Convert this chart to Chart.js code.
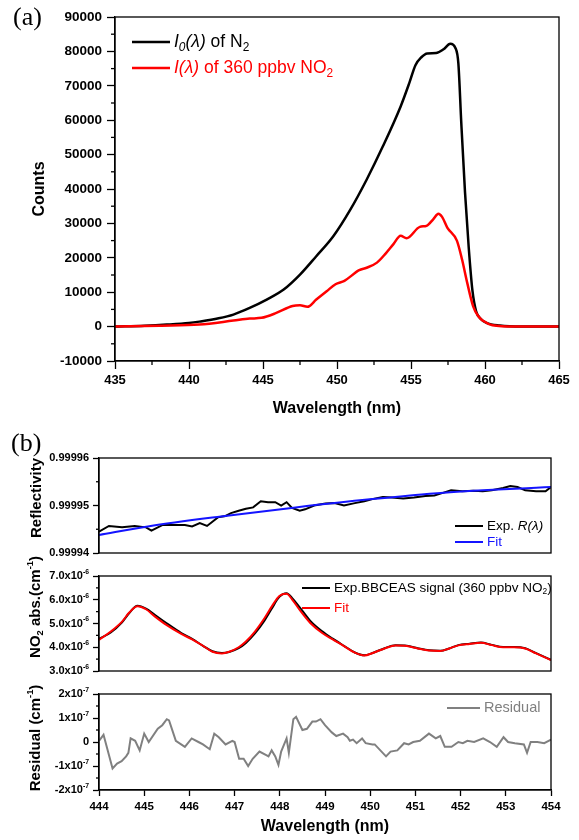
<!DOCTYPE html>
<html>
<head>
<meta charset="utf-8">
<script src="https://cdn.jsdelivr.net/npm/chart.js@4.4.1/dist/chart.umd.min.js"></script>
<style>
  body { margin: 0; background: #fff; width: 579px; height: 840px; position: relative; overflow: hidden; }
  .box { position: absolute; left: 0; width: 579px; }
  .tag { position: absolute; font-family: "Liberation Serif", "Times New Roman", serif; font-size: 26px; line-height: 26px; color: #000; }
</style>
</head>
<body>
<div class="box" style="top:0;height:425px"><canvas id="chartA"></canvas></div>
<div class="box" style="top:436px;height:130px"><canvas id="chartR"></canvas></div>
<div class="box" style="top:550px;height:132px"><canvas id="chartAbs"></canvas></div>
<div class="box" style="top:670px;height:170px"><canvas id="chartRes"></canvas></div>
<div class="tag" style="left:13px;top:4px">(a)</div>
<div class="tag" style="left:11px;top:430px">(b)</div>
<script>
// ---- (a) spectra, counts vs wavelength (nm)
const wlI0 = [435.0, 437.0, 438.5, 440.0, 440.7, 442.0, 443.0, 444.1, 445.25, 446.4, 447.5, 448.6, 449.75, 450.9, 452.0, 453.1, 454.3, 454.9, 455.3, 455.7, 456.1, 456.7, 457.2, 457.65, 458.0, 458.2, 458.4, 458.65, 458.9, 459.15, 459.4, 459.7, 460.1, 461.0, 462.5, 465.0];
const countsI0 = [0, 250, 580, 1050, 1450, 2400, 3490, 5430, 7850, 10760, 15100, 20450, 26260, 34000, 42700, 52400, 64000, 71000, 76000, 78300, 79400, 79500, 80600, 82200, 81000, 76500, 59000, 39000, 23000, 10500, 4460, 2300, 1100, 300, 0, 0];
const wlI = [435.0, 438.0, 440.7, 443.0, 444.1, 444.9, 445.9, 447.0, 447.5, 448.0, 448.6, 449.3, 449.9, 450.5, 451.5, 452.0, 452.7, 453.3, 453.8, 454.3, 454.7, 455.6, 456.05, 456.5, 456.85, 457.1, 457.45, 458.1, 458.45, 458.8, 459.2, 459.55, 459.9, 460.5, 462.0, 465.0];
const countsI = [0, 250, 580, 1740, 2330, 2550, 3970, 6000, 6200, 5750, 7850, 10270, 12300, 13300, 16400, 17100, 18600, 21300, 23900, 26400, 25700, 29000, 29300, 31200, 32800, 31900, 28800, 25000, 19500, 12700, 5900, 3000, 1600, 390, 0, 0];

// ---- (b) top: mirror reflectivity
const wlR = [444.00, 444.22, 444.51, 444.79, 445.04, 445.16, 445.41, 445.65, 445.90, 446.06, 446.23, 446.39, 446.63, 446.80, 446.92, 447.09, 447.25, 447.41, 447.58, 447.74, 447.90, 448.03, 448.15, 448.27, 448.44, 448.56, 448.76, 449.01, 449.21, 449.42, 449.66, 449.87, 450.07, 450.28, 450.48, 450.73, 450.97, 451.22, 451.42, 451.59, 451.79, 452.04, 452.28, 452.49, 452.69, 452.94, 453.10, 453.26, 453.43, 453.67, 453.88, 454.00];
const reflExp = [0.9999445, 0.9999457, 0.9999454, 0.9999457, 0.9999454, 0.9999447, 0.9999459, 0.9999459, 0.9999459, 0.9999456, 0.9999463, 0.9999457, 0.9999475, 0.9999478, 0.9999484, 0.9999489, 0.9999493, 0.9999496, 0.9999509, 0.9999507, 0.9999507, 0.9999500, 0.9999507, 0.9999495, 0.9999489, 0.9999492, 0.9999500, 0.9999504, 0.9999505, 0.9999500, 0.9999505, 0.9999509, 0.9999514, 0.9999518, 0.9999517, 0.9999515, 0.9999517, 0.9999520, 0.9999521, 0.9999526, 0.9999532, 0.9999530, 0.9999531, 0.9999530, 0.9999532, 0.9999537, 0.9999541, 0.9999539, 0.9999532, 0.9999530, 0.9999530, 0.9999539];
const wlRFit = [444.0, 445.08, 446.7, 448.35, 449.99, 451.63, 454.0];
const reflFit = [0.9999438, 0.9999456, 0.9999477, 0.9999496, 0.9999513, 0.9999527, 0.9999539];
const reflTicks = [0.99994, 0.99995, 0.99996];

// ---- (b) middle: NO2 absorption, in units of 1e-6 cm^-1
const wlAbs = [444.00, 444.26, 444.51, 444.67, 444.85, 445.04, 445.24, 445.49, 445.82, 446.06, 446.31, 446.51, 446.72, 446.88, 447.09, 447.25, 447.45, 447.66, 447.82, 447.99, 448.15, 448.27, 448.44, 448.68, 448.93, 449.17, 449.42, 449.66, 449.87, 450.07, 450.32, 450.56, 450.81, 451.05, 451.30, 451.55, 451.75, 451.95, 452.20, 452.45, 452.69, 452.94, 453.18, 453.43, 453.67, 454.00];
const absExp = [4.35, 4.62, 5.05, 5.44, 5.75, 5.63, 5.36, 5.02, 4.60, 4.35, 4.05, 3.83, 3.76, 3.80, 3.96, 4.18, 4.58, 5.12, 5.62, 6.12, 6.27, 6.08, 5.68, 5.10, 4.68, 4.36, 4.06, 3.78, 3.66, 3.77, 3.96, 4.08, 4.06, 3.96, 3.87, 3.85, 3.95, 4.09, 4.15, 4.20, 4.10, 4.01, 4.01, 3.96, 3.75, 3.47];
const absFit = [4.31, 4.66, 5.08, 5.46, 5.73, 5.60, 5.29, 4.94, 4.56, 4.33, 4.05, 3.81, 3.74, 3.81, 4.00, 4.24, 4.66, 5.22, 5.71, 6.16, 6.25, 6.02, 5.57, 5.01, 4.61, 4.33, 4.05, 3.77, 3.65, 3.77, 3.95, 4.07, 4.05, 3.95, 3.86, 3.84, 3.95, 4.08, 4.14, 4.19, 4.09, 4.00, 4.00, 3.95, 3.74, 3.46];
const absTicks = [3, 4, 5, 6, 7];
const absTickText = ['3.0x10^{-6}', '4.0x10^{-6}', '5.0x10^{-6}', '6.0x10^{-6}', '7.0x10^{-6}'];

// ---- (b) bottom: residual, in units of 1e-7 cm^-1
const wlRes = [444.0, 444.1, 444.3, 444.4, 444.5, 444.6, 444.65, 444.7, 444.8, 444.9, 445.0, 445.1, 445.3, 445.4, 445.5, 445.55, 445.7, 445.9, 446.05, 446.2, 446.3, 446.45, 446.55, 446.65, 446.8, 446.95, 447.0, 447.1, 447.2, 447.3, 447.4, 447.55, 447.7, 447.75, 447.82, 447.9, 447.97, 448.03, 448.15, 448.2, 448.3, 448.36, 448.5, 448.6, 448.72, 448.8, 448.9, 449.0, 449.15, 449.25, 449.4, 449.5, 449.55, 449.62, 449.7, 449.82, 449.9, 450.05, 450.1, 450.35, 450.45, 450.6, 450.75, 450.85, 450.95, 451.1, 451.3, 451.45, 451.55, 451.65, 451.8, 451.95, 452.05, 452.15, 452.3, 452.5, 452.65, 452.8, 452.95, 453.05, 453.2, 453.4, 453.47, 453.55, 453.7, 453.85, 454.0];
const residual = [0.05, 0.3, -1.1, -0.9, -0.8, -0.6, -0.45, 0.15, 0.05, -0.35, 0.35, 0.0, 0.55, 0.7, 0.95, 0.9, 0.05, -0.2, 0.15, 0.0, -0.1, -0.3, 0.35, 0.2, -0.1, 0.05, 0.0, -0.7, -0.7, -1.0, -0.7, -0.4, -0.55, -0.6, -0.35, -0.6, -0.95, -0.4, 0.15, -0.45, 0.95, 1.05, 0.5, 0.55, 0.85, 0.85, 0.95, 0.7, 0.4, 0.25, 0.35, 0.2, 0.05, 0.1, -0.05, 0.15, -0.05, -0.1, -0.1, -0.6, -0.4, -0.35, -0.05, -0.1, 0.0, 0.05, 0.35, 0.15, 0.25, -0.2, -0.2, 0.0, -0.05, 0.05, 0.0, 0.15, 0.0, -0.2, 0.2, 0.0, -0.05, -0.1, -0.45, 0.0, 0.0, -0.05, 0.1];
const resTicks = [-2, -1, 0, 1, 2];
const resTickText = ['-2x10^{-7}', '-1x10^{-7}', '0', '1x10^{-7}', '2x10^{-7}'];
const wlTicksB = [444, 445, 446, 447, 448, 449, 450, 451, 452, 453, 454];

const FONT = '"Liberation Sans", Arial, Helvetica, sans-serif';
Chart.defaults.font.family = FONT;
Chart.defaults.color = '#000';

// tiny markup: *italic*, _{sub}, ^{sup}
function parseRich(str) {
    const parts = [];
    let it = false, buf = '', i = 0;
    const push = (t, mode) => { if (t) parts.push({ t, it, mode }); };
    while (i < str.length) {
        const c = str[i];
        if (c === '*') { push(buf, 0); buf = ''; it = !it; i++; }
        else if ((c === '_' || c === '^') && str[i + 1] === '{') {
            push(buf, 0); buf = '';
            const end = str.indexOf('}', i);
            push(str.slice(i + 2, end), c === '_' ? -1 : 1);
            i = end + 1;
        } else { buf += c; i++; }
    }
    push(buf, 0);
    return parts;
}

function drawRich(ctx, str, x, y, o) {
    const parts = parseRich(str);
    const small = o.small || 0.62;
    const fontOf = p => `${p.it ? 'italic ' : ''}${o.bold ? 'bold ' : ''}${p.mode ? o.size * small : o.size}px ${FONT}`;
    let w = 0;
    parts.forEach(p => { ctx.font = fontOf(p); w += ctx.measureText(p.t).width; });
    let cx = o.align === 'right' ? x - w : o.align === 'center' ? x - w / 2 : x;
    ctx.textAlign = 'left';
    ctx.textBaseline = 'middle';
    ctx.fillStyle = o.color || '#000';
    parts.forEach(p => {
        ctx.font = fontOf(p);
        const dy = p.mode === 1 ? -o.size * 0.36 : p.mode === -1 ? o.size * 0.3 : 0;
        ctx.fillText(p.t, cx, y + dy);
        cx += ctx.measureText(p.t).width;
    });
}

// frame, minor ticks, rich tick labels, rotated titles, legend
const decor = {
    id: 'decor',
    afterDraw(chart, args, o) {
        const ctx = chart.ctx, a = chart.chartArea;
        ctx.save();
        ctx.strokeStyle = '#000';
        ctx.lineWidth = 1.3;
        ctx.strokeRect(a.left, a.top, a.right - a.left, a.bottom - a.top);

        (o.minor || []).forEach(id => {
            const s = chart.scales[id];
            for (let i = 0; i < s.ticks.length - 1; i++) {
                const p = s.getPixelForValue((s.ticks[i].value + s.ticks[i + 1].value) / 2);
                ctx.beginPath();
                if (s.isHorizontal()) { ctx.moveTo(p, a.bottom); ctx.lineTo(p, a.bottom + o.minorLen); }
                else { ctx.moveTo(a.left, p); ctx.lineTo(a.left - o.minorLen, p); }
                ctx.stroke();
            }
        });

        if (o.tickText) {
            const s = chart.scales.y;
            s.ticks.forEach((t, i) => {
                drawRich(ctx, o.tickText[i], a.left - 10, s.getPixelForValue(t.value), { size: 11, bold: true, align: 'right' });
            });
        }

        if (o.yTitle) {
            ctx.save();
            ctx.translate(o.yTitle.x, o.yTitle.y);
            ctx.rotate(-Math.PI / 2);
            drawRich(ctx, o.yTitle.text, 0, 0, { size: 15, bold: true, align: 'center' });
            ctx.restore();
        }

        (o.legend || []).forEach(item => {
            const ds = chart.data.datasets[item.ds];
            ctx.strokeStyle = ds.borderColor;
            ctx.lineWidth = ds.borderWidth;
            ctx.beginPath();
            ctx.moveTo(item.x, item.y);
            ctx.lineTo(item.x + item.len, item.y);
            ctx.stroke();
            drawRich(ctx, item.text, item.x + item.len + 4, item.y, { size: item.size, small: item.small, color: item.color || ds.borderColor });
        });
        ctx.restore();
    }
};

function pts(xs, ys) {
    return xs.map((x, i) => ({ x, y: ys[i] }));
}

function line(label, xs, ys, color, width, order, smooth) {
    return {
        label, data: pts(xs, ys), borderColor: color, borderWidth: width,
        pointRadius: 0, fill: false, order,
        cubicInterpolationMode: smooth ? 'monotone' : 'default', tension: 0
    };
}

const tickGrid = len => ({ drawOnChartArea: false, drawTicks: true, tickLength: len, color: '#000', tickWidth: 1.3 });
const blackBorder = { display: true, color: '#000', width: 1.3 };

// (a)
new Chart(document.getElementById('chartA'), {
    type: 'line',
    data: {
        datasets: [
            line('I0 of N2', wlI0, countsI0, '#000000', 2.5, 1, true),
            line('I of 360 ppbv NO2', wlI, countsI, '#ff0000', 2.5, 0, true)
        ]
    },
    options: {
        responsive: true, maintainAspectRatio: false, animation: false, devicePixelRatio: 1,
        layout: { padding: { top: 17, right: 20, left: 0, bottom: 0 } },
        plugins: {
            legend: { display: false }, tooltip: { enabled: false },
            decor: {
                minor: ['x', 'y'], minorLen: 4,
                legend: [
                    { ds: 0, x: 132, y: 42, len: 38, size: 17.5, small: 0.68, text: '*I_{0}(λ)* of N_{2}' },
                    { ds: 1, x: 132, y: 68, len: 38, size: 17.5, small: 0.68, text: '*I(λ)* of 360 ppbv NO_{2}' }
                ]
            }
        },
        scales: {
            x: {
                type: 'linear', min: 435, max: 465,
                ticks: { stepSize: 5, padding: 4, font: { size: 13, weight: 'bold' }, callback: v => String(v) },
                grid: tickGrid(8), border: blackBorder,
                title: { display: true, text: 'Wavelength (nm)', font: { size: 16, weight: 'bold' }, padding: { top: 0, bottom: 7 } },
                afterFit: s => { s.height = 64; }
            },
            y: {
                min: -10000, max: 90000,
                ticks: { stepSize: 10000, padding: 5, font: { size: 13.5, weight: 'bold' }, callback: v => String(v) },
                grid: tickGrid(8), border: blackBorder,
                title: { display: true, text: 'Counts', font: { size: 16, weight: 'bold' }, padding: { top: 30, bottom: 0 } },
                afterFit: s => { s.width = 115; }
            }
        }
    },
    plugins: [decor]
});

// (b) shared x for the three stacked panels
const xHidden = { type: 'linear', min: 444, max: 454, display: false };

new Chart(document.getElementById('chartR'), {
    type: 'line',
    data: {
        datasets: [
            line('Exp. R', wlR, reflExp, '#000000', 2, 1, false),
            line('Fit', wlRFit, reflFit, '#1414ff', 2, 0, true)
        ]
    },
    options: {
        responsive: true, maintainAspectRatio: false, animation: false, devicePixelRatio: 1,
        layout: { padding: { top: 22, right: 28, left: 0, bottom: 13 } },
        plugins: {
            legend: { display: false }, tooltip: { enabled: false },
            decor: {
                minor: ['y'], minorLen: 3,
                yTitle: { x: 37, y: 62, text: 'Reflectivity' },
                legend: [
                    { ds: 0, x: 455, y: 90, len: 28, size: 13.5, text: 'Exp. *R(λ)*' },
                    { ds: 1, x: 455, y: 106, len: 28, size: 13.5, text: 'Fit' }
                ]
            }
        },
        scales: {
            x: xHidden,
            y: {
                min: 0.99994, max: 0.99996,
                afterBuildTicks: s => { s.ticks = reflTicks.map(v => ({ value: v })); },
                ticks: { padding: 4, font: { size: 11, weight: 'bold' }, callback: v => v.toFixed(5) },
                grid: tickGrid(6), border: blackBorder,
                afterFit: s => { s.width = 99; }
            }
        }
    },
    plugins: [decor]
});

new Chart(document.getElementById('chartAbs'), {
    type: 'line',
    data: {
        datasets: [
            line('Exp.BBCEAS signal', wlAbs, absExp, '#000000', 2, 1, true),
            line('Fit', wlAbs, absFit, '#ff0000', 2, 0, true)
        ]
    },
    options: {
        responsive: true, maintainAspectRatio: false, animation: false, devicePixelRatio: 1,
        layout: { padding: { top: 26, right: 28, left: 0, bottom: 11 } },
        plugins: {
            legend: { display: false }, tooltip: { enabled: false },
            decor: {
                minor: ['y'], minorLen: 3,
                tickText: absTickText,
                yTitle: { x: 36, y: 57, text: 'NO_{2} abs.(cm^{-1})' },
                legend: [
                    { ds: 0, x: 302, y: 38, len: 28, size: 13.5, text: 'Exp.BBCEAS signal (360 ppbv NO_{2})' },
                    { ds: 1, x: 302, y: 58, len: 28, size: 13.5, text: 'Fit' }
                ]
            }
        },
        scales: {
            x: xHidden,
            y: {
                min: 3, max: 7,
                afterBuildTicks: s => { s.ticks = absTicks.map(v => ({ value: v })); },
                ticks: { callback: () => '' },
                grid: tickGrid(6), border: blackBorder,
                afterFit: s => { s.width = 99; }
            }
        }
    },
    plugins: [decor]
});

new Chart(document.getElementById('chartRes'), {
    type: 'line',
    data: {
        datasets: [line('Residual', wlRes, residual, '#808080', 2, 0, false)]
    },
    options: {
        responsive: true, maintainAspectRatio: false, animation: false, devicePixelRatio: 1,
        layout: { padding: { top: 24, right: 28, left: 0, bottom: 0 } },
        plugins: {
            legend: { display: false }, tooltip: { enabled: false },
            decor: {
                minor: ['y'], minorLen: 3,
                tickText: resTickText,
                yTitle: { x: 36, y: 68, text: 'Residual (cm^{-1})' },
                legend: [
                    { ds: 0, x: 447, y: 38, len: 33, size: 14.5, text: 'Residual' }
                ]
            }
        },
        scales: {
            x: {
                type: 'linear', min: 444, max: 454,
                afterBuildTicks: s => { s.ticks = wlTicksB.map(v => ({ value: v })); },
                ticks: { padding: 4, font: { size: 11.5, weight: 'bold' }, callback: v => String(v) },
                grid: tickGrid(6), border: blackBorder,
                title: { display: true, text: 'Wavelength (nm)', font: { size: 16, weight: 'bold' }, padding: { top: 0, bottom: 4 } },
                afterFit: s => { s.height = 50; }
            },
            y: {
                min: -2, max: 2,
                afterBuildTicks: s => { s.ticks = resTicks.map(v => ({ value: v })); },
                ticks: { callback: () => '' },
                grid: tickGrid(6), border: blackBorder,
                afterFit: s => { s.width = 99; }
            }
        }
    },
    plugins: [decor]
});
</script>
</body>
</html>
